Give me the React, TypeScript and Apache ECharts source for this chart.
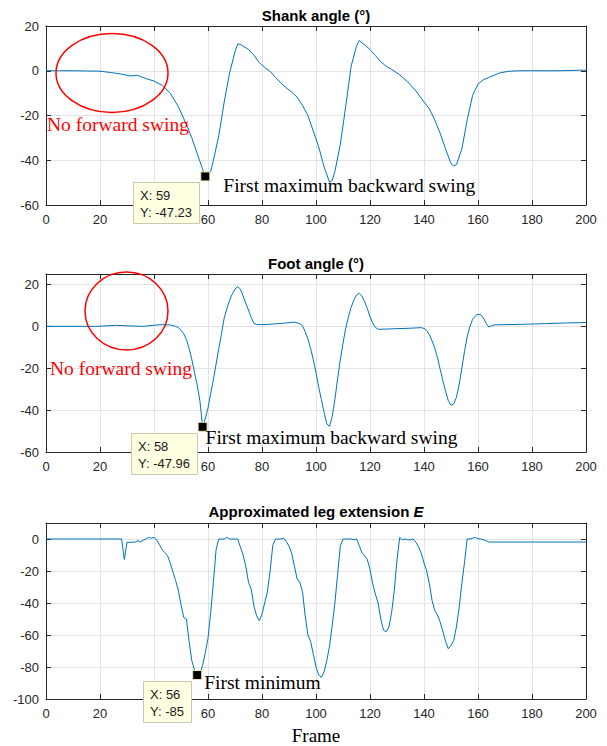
import React, { useEffect, useRef } from "react";
import * as echarts from "echarts";

// ---------- data (frame, value) ----------
const SHANK_ANGLE: [number, number][] = [
  [0, 0], [5, 0], [10, 0], [15, -0.1], [20, -0.2], [24, -0.8], [28, -1.5], [31, -2.3], [34, -2.1],
  [37, -3.5], [40, -4.6], [43, -6.5], [46, -10], [49, -16], [52, -24], [54, -30], [56, -37], [58, -44],
  [59, -47.23], [60, -46.5], [61, -45], [62, -40], [64, -29], [66, -14], [68, -1], [70, 8.5], [71, 12],
  [72, 11.8], [73, 11], [75, 9.5], [77, 7], [79, 3.6], [81, 1.5], [83, -0.3], [85, -3], [87, -5.5],
  [89, -7.7], [91, -9.5], [93, -11.8], [95, -15.5], [97, -20], [99, -27], [101, -34], [103, -43],
  [105, -49.8], [106, -49], [107, -45], [109, -33], [111, -16], [113, 2], [115, 11], [116, 13.5],
  [117, 12.5], [118, 11.6], [120, 9.5], [122, 6.8], [124, 4], [126, 2], [128, 0.6], [131, -1.8],
  [134, -5], [137, -9], [140, -14], [142, -17], [144, -22], [146, -28], [148, -35], [150, -41.5],
  [151, -42.5], [152, -42], [154, -35], [156, -22], [158, -11], [160, -6], [162, -4], [164, -3],
  [166, -2], [168, -1], [171, -0.3], [175, 0], [180, 0], [190, 0], [200, 0.3],
];

const FOOT_ANGLE: [number, number][] = [
  [0, 0], [10, 0], [19, 0], [26, 0.5], [31, 0.2], [36, 0], [42, 0.8], [46, 0.7], [48, 0], [49, -0.6],
  [50, -1.8], [51, -3.5], [52, -6.2], [53, -10.5], [54, -15.8], [55, -22], [56, -28], [57, -35.5],
  [58, -47.96], [59, -44], [60, -39], [61, -32], [62, -25.4], [63, -18], [64, -10.5], [65, -3.5],
  [66, 4], [67, 8.5], [68, 12.5], [69, 15.5], [70, 17.8], [71, 19], [72, 17.8], [73, 14.5], [74, 11],
  [75, 7.8], [76, 4.2], [77, 1.4], [78, 0.9], [80, 0.8], [84, 1.1], [88, 1.5], [92, 2], [94, 1.3],
  [95, 0.2], [96, -2.5], [97, -6], [98, -10.5], [99, -16], [100, -22], [101, -29], [102, -35],
  [103, -41], [104, -46.5], [105, -47.8], [106, -43], [107, -35], [108, -25], [109, -16], [110, -8],
  [111, -1], [112, 4.5], [113, 9], [114, 12.5], [115, 15], [116, 15.8], [117, 14.5], [118, 11.8],
  [119, 8.6], [120, 4.5], [121, 1.5], [122, -0.5], [123, -1.4], [126, -1.3], [130, -1.1], [135, -0.9],
  [139, -0.6], [140, -1], [141, -2], [142, -4], [143, -7], [144, -10.5], [145, -15], [146, -20.5],
  [147, -26], [148, -31], [149, -35.5], [150, -37.7], [151, -37], [152, -34], [153, -28], [154, -20],
  [155, -12], [156, -5], [157, 0], [158, 3.4], [159, 5], [160, 5.8], [161, 5.5], [162, 4], [163, 1.5],
  [164, -0.3], [165, 0.2], [166, 0.7], [170, 0.8], [177, 1], [185, 1.3], [192, 1.6], [200, 1.8],
];

const LEG_EXTENSION: [number, number][] = [
  [0, 0], [10, 0], [20, 0], [28, 0], [29, -12.8], [30, -2.1], [33, -2], [34, -1], [35, -1.8], [36, -0.8],
  [37, 0], [38, 1], [39, 0.5], [40, 1], [41, -0.5], [42, -3.5], [43, -6.6], [44, -8.5], [45, -10.5],
  [46, -15], [47, -20.5], [48, -26], [49, -32], [50, -41], [51, -49], [52, -50], [53, -64], [54, -76],
  [55, -82], [56, -85], [57, -84], [58, -79], [59, -71], [60, -62], [61, -46], [62, -27], [63, -6.6],
  [64, 0], [66, 0], [67, 1], [68, 0], [71, 0], [72, -5], [73, -10], [74, -17], [75, -27], [76, -31.4],
  [77, -41.8], [78, -48], [79, -51], [80, -47], [81, -40], [82, -33], [83, -20], [84, -4], [85, 0],
  [87, 0], [88, 0.5], [89, -1.5], [90, -4.5], [91, -9], [92, -17], [93, -25], [94, -27], [95, -33],
  [96, -48], [97, -60], [98, -64], [99, -72], [100, -80], [101, -85], [102, -86.5], [103, -83],
  [104, -76], [105, -67], [106, -54], [107, -40], [108, -22], [109, -4.5], [110, 0], [113, 0],
  [114, -0.5], [115, 0], [116, -4], [117, -8.5], [118, -10.5], [119, -12.8], [120, -19], [121, -28],
  [122, -34.5], [123, -40], [124, -50], [125, -57], [126, -58], [127, -55], [128, -46], [129, -32],
  [130, -13], [131, 1], [132, -0.5], [133, 0], [134, -0.5], [135, -0.5], [136, 0], [137, -2], [138, -5],
  [139, -9], [140, -15], [141, -20], [142, -28], [143, -38.6], [144, -44.8], [145, -47.5], [146, -52],
  [147, -58], [148, -64], [149, -68.6], [150, -66.5], [151, -63.5], [152, -55], [153, -43], [154, -28],
  [155, -14.6], [156, 0], [157, 0], [158, 0.5], [159, 1], [160, 0.2], [161, 0], [162, -0.5], [163, -1],
  [164, -1.9], [180, -1.9], [200, -1.9],
];

const SERIES_DATA = [SHANK_ANGLE, FOOT_ANGLE, LEG_EXTENSION];
const PANEL_TITLES = ["Shank angle (°)", "Foot angle (°)", "Approximated leg extension "];
const TITLE_ITALIC_SUFFIX = ["", "", "E"];
const Y_MIN = [-60, -60, -100];
const Y_MAX = [20, 25, 10];
const X_MIN = 0;
const X_MAX = 200;
const TICK_STEP = 20;
const X_NAME = "Frame";

// data tips (frame, value)
const DATATIPS: [number, number][] = [[59, -47.23], [58, -47.96], [56, -85]];
const TIP_ANNOTATIONS = ["First maximum backward swing", "First maximum backward swing", "First minimum"];
const RED_NOTE = "No forward swing";

// ---------- layout ----------
const W = 607;
const H = 746;
const GRID_LEFT = 46;
const GRID_WIDTH = 540;
const GRID_TOPS = [26, 274, 523];
const GRID_HEIGHTS = [179, 178, 178];
const TITLE_Y = [15, 263, 511];
const ANN_OFFSETS: [number, number][] = [[18, 9], [3, 11], [7, 7]];
const ELLIPSES = [
  { cx: 112, cy: 73, rx: 56, ry: 39.5 },
  { cx: 126.5, cy: 311, rx: 41.5, ry: 39 },
];
const RED_NOTE_POS: [number, number][] = [[47, 124], [50, 368]];

const AXIS_COLOR = "#262626";
const GRID_COLOR = "#e3e3e3";
const LINE_COLOR = "#0072BD";
const SANS = '"Liberation Sans", Arial, Helvetica, sans-serif';
const SERIF = '"Liberation Serif", "Times New Roman", serif';

function fmtTip(v: number) {
  return String(v);
}

export default function App() {
  const ref = useRef<HTMLDivElement>(null);

  useEffect(() => {
    if (!ref.current) return;
    const chart = echarts.init(ref.current, null, { renderer: "svg" });

    const grids: any[] = [];
    const xAxes: any[] = [];
    const yAxes: any[] = [];
    const series: any[] = [];
    const tick = { show: true, inside: true, length: 5, lineStyle: { color: AXIS_COLOR, width: 1 } };
    const line = { show: true, onZero: false, lineStyle: { color: AXIS_COLOR, width: 1 } };

    for (let i = 0; i < 3; i++) {
      grids.push({ left: GRID_LEFT, width: GRID_WIDTH, top: GRID_TOPS[i], height: GRID_HEIGHTS[i], containLabel: false });
      xAxes.push({
        type: "value", gridIndex: i, position: "bottom", min: X_MIN, max: X_MAX, interval: TICK_STEP,
        axisLine: line, axisTick: tick,
        axisLabel: { color: AXIS_COLOR, fontSize: 13, fontFamily: SANS, margin: 8 },
        splitLine: { show: true, lineStyle: { color: GRID_COLOR, width: 1 } },
        ...(i === 2
          ? { name: X_NAME, nameLocation: "middle", nameGap: 27, nameTextStyle: { fontFamily: SERIF, fontSize: 19, color: "#000" } }
          : {}),
      });
      xAxes.push({
        type: "value", gridIndex: i, position: "top", min: X_MIN, max: X_MAX, interval: TICK_STEP,
        axisLine: line, axisTick: tick, axisLabel: { show: false }, splitLine: { show: false },
      });
      yAxes.push({
        type: "value", gridIndex: i, position: "left", min: Y_MIN[i], max: Y_MAX[i], interval: TICK_STEP,
        axisLine: line, axisTick: tick,
        axisLabel: {
          color: AXIS_COLOR, fontSize: 13, fontFamily: SANS, margin: 7,
          formatter: (v: number) => (v % TICK_STEP === 0 ? String(v) : ""),
        },
        splitLine: { show: true, lineStyle: { color: GRID_COLOR, width: 1 } },
      });
      yAxes.push({
        type: "value", gridIndex: i, position: "right", min: Y_MIN[i], max: Y_MAX[i], interval: TICK_STEP,
        axisLine: line, axisTick: tick, axisLabel: { show: false }, splitLine: { show: false },
      });
      series.push({
        type: "line", xAxisIndex: 2 * i, yAxisIndex: 2 * i, data: SERIES_DATA[i],
        showSymbol: false, symbol: "none", silent: true,
        lineStyle: { color: LINE_COLOR, width: 1 },
        markPoint: {
          silent: true, symbol: "rect", symbolSize: 9,
          itemStyle: { color: "#000", borderColor: "#e8e6b8", borderWidth: 1 },
          label: { show: false },
          data: [{ coord: DATATIPS[i] }],
        },
      });
    }

    chart.setOption({
      animation: false,
      backgroundColor: "#fff",
      grid: grids,
      xAxis: xAxes,
      yAxis: yAxes,
      series,
    });

    // measure text for data tip boxes
    const canvas = document.createElement("canvas");
    const ctx = canvas.getContext("2d")!;
    ctx.font = `13px ${SANS}`;

    const graphics: any[] = [];
    for (let i = 0; i < 3; i++) {
      const title = PANEL_TITLES[i];
      const suffix = TITLE_ITALIC_SUFFIX[i];
      graphics.push({
        type: "text", z: 100,
        x: GRID_LEFT + GRID_WIDTH / 2, y: TITLE_Y[i],
        style: {
          text: suffix ? `{b|${title}}{i|${suffix}}` : `{b|${title}}`,
          align: "center", verticalAlign: "middle",
          rich: {
            b: { fontFamily: SANS, fontSize: 15, fontWeight: "bold", fill: "#000" },
            i: { fontFamily: SANS, fontSize: 15, fontWeight: "bold", fontStyle: "italic", fill: "#000" },
          },
        },
      });

      const [px, py] = chart.convertToPixel({ seriesIndex: i }, DATATIPS[i]) as number[];
      const l1 = `X: ${fmtTip(DATATIPS[i][0])}`;
      const l2 = `Y: ${fmtTip(DATATIPS[i][1])}`;
      const tw = Math.max(ctx.measureText(l1).width, ctx.measureText(l2).width);
      const bw = Math.round(tw + 14);
      const bx = Math.round(px - 6 - bw);
      const by = Math.round(py + 6);
      graphics.push({
        type: "group", z: 100,
        children: [
          { type: "rect", z: 100, shape: { x: bx + 0.5, y: by + 0.5, width: bw, height: 41 },
            style: { fill: "#ffffe1", stroke: "#c9c8b0", lineWidth: 1 } },
          { type: "text", z: 101, x: bx + 7, y: by + 13,
            style: { text: l1, font: `13px ${SANS}`, fill: "#1a1a1a", verticalAlign: "middle" } },
          { type: "text", z: 101, x: bx + 7, y: by + 30,
            style: { text: l2, font: `13px ${SANS}`, fill: "#1a1a1a", verticalAlign: "middle" } },
        ],
      });
      graphics.push({
        type: "text", z: 100,
        x: px + ANN_OFFSETS[i][0], y: py + ANN_OFFSETS[i][1],
        style: { text: TIP_ANNOTATIONS[i], font: `19.5px ${SERIF}`, fill: "#000", verticalAlign: "middle" },
      });
    }
    for (let i = 0; i < ELLIPSES.length; i++) {
      const e = ELLIPSES[i];
      graphics.push({
        type: "ellipse", z: 100,
        shape: { cx: e.cx, cy: e.cy, rx: e.rx, ry: e.ry },
        style: { fill: "none", stroke: "#ff0000", lineWidth: 1.5 },
      });
      graphics.push({
        type: "text", z: 100,
        x: RED_NOTE_POS[i][0], y: RED_NOTE_POS[i][1],
        style: { text: RED_NOTE, font: `19.5px ${SERIF}`, fill: "#ff0000", verticalAlign: "middle" },
      });
    }

    chart.setOption({ graphic: graphics });

    return () => chart.dispose();
  }, []);

  return (
    <div
      ref={ref}
      style={{ position: "fixed", left: 0, top: 0, width: W, height: H, background: "#fff" }}
    />
  );
}
